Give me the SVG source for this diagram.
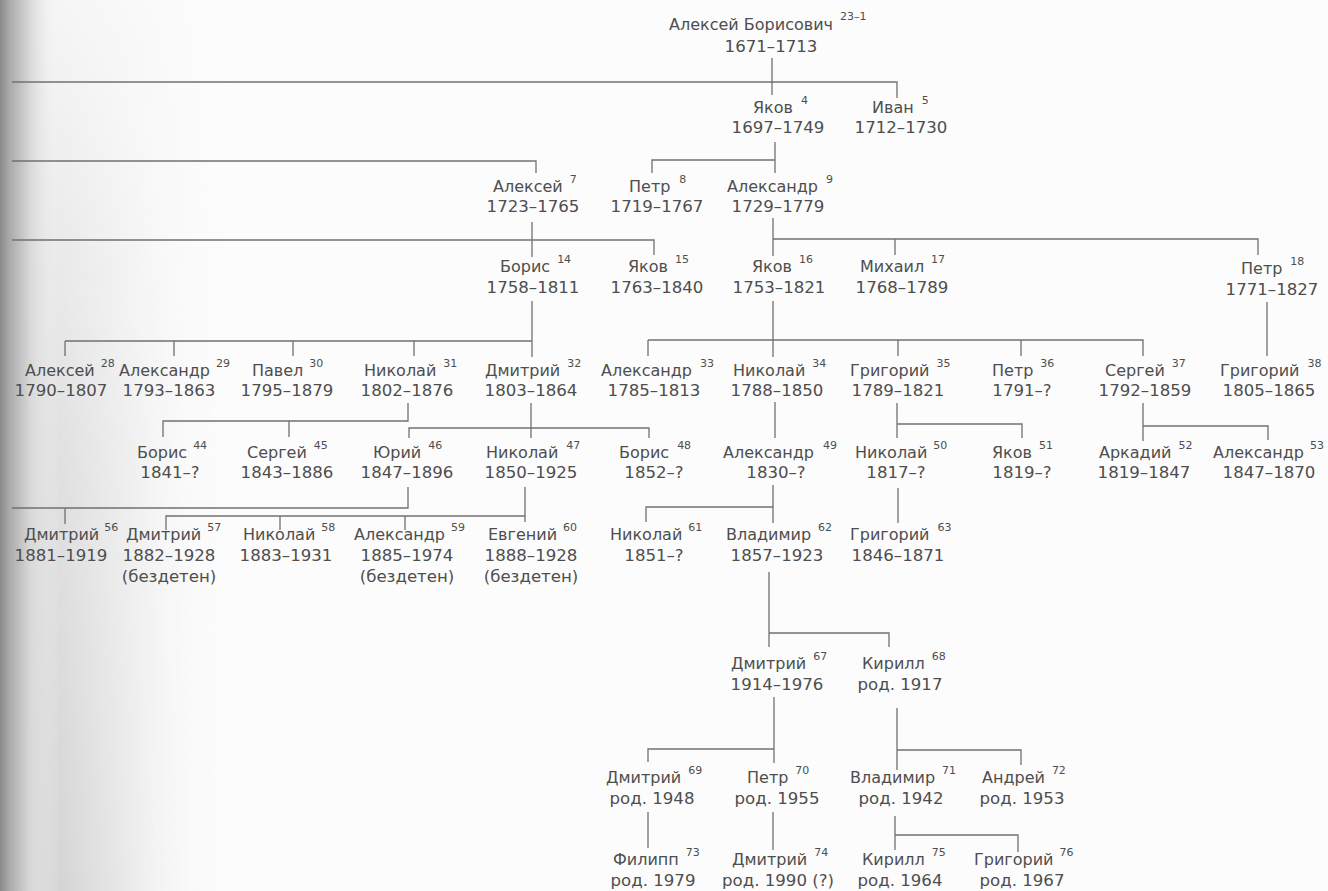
<svg xmlns="http://www.w3.org/2000/svg" width="1328" height="891" viewBox="0 0 1328 891">
<defs>
<linearGradient id="edge" x1="0" y1="0" x2="1" y2="0">
<stop offset="0" stop-color="#8a8a8a"/>
<stop offset="0.15" stop-color="#a9a9a9"/>
<stop offset="0.5" stop-color="#d8d8d8"/>
<stop offset="1" stop-color="#fcfcfc" stop-opacity="0"/>
</linearGradient>
<linearGradient id="wide" x1="0" y1="0" x2="1" y2="0">
<stop offset="0" stop-color="#b0b0b0"/>
<stop offset="0.25" stop-color="#d4d4d4"/>
<stop offset="0.6" stop-color="#ededed"/>
<stop offset="1" stop-color="#fcfcfc" stop-opacity="0"/>
</linearGradient>
<linearGradient id="fadeV" x1="0" y1="0" x2="0" y2="1">
<stop offset="0" stop-color="#fff" stop-opacity="0.15"/>
<stop offset="0.5" stop-color="#fff" stop-opacity="0.7"/>
<stop offset="1" stop-color="#fff" stop-opacity="1"/>
</linearGradient>
<mask id="m" maskUnits="userSpaceOnUse" x="0" y="0" width="240" height="891">
<rect width="240" height="891" fill="url(#fadeV)"/>
</mask>
</defs>
<style>
text{font-family:"DejaVu Sans","Liberation Sans",sans-serif;fill:#4e4e4e;font-size:16px}
.d{text-anchor:middle;font-size:16.6px}
.s{font-size:11px}
#connectors path{fill:none;stroke:#707070;stroke-width:1.3}
</style>
<rect width="1328" height="891" fill="#fcfcfc"/>
<rect width="230" height="891" fill="url(#wide)" mask="url(#m)"/>
<rect width="60" height="891" fill="url(#edge)"/>
<g id="connectors">
<path d="M772,58V95M12,82H897V98"/>
<path d="M775,142V173M652,173V160H775"/>
<path d="M12,161H536V173"/>
<path d="M532,222V257M12,240H654V255"/>
<path d="M773,218V256M773,239H1258V255M895,239V255"/>
<path d="M532,301V357M65,341H532M65,341V356M174,341V356M293,341V356M414,341V356"/>
<path d="M773,301V357M648,340H1143V356M648,340V356M898,340V356M1021,340V356"/>
<path d="M1267,302V356"/>
<path d="M408,403V421H163V437M289,421V437"/>
<path d="M531,403V438M409,438V428H649V438"/>
<path d="M775,402V438"/>
<path d="M897,403V438M897,424H1022V438"/>
<path d="M1143,403V441M1143,426H1268V440"/>
<path d="M408,487V508H12M65,508V524"/>
<path d="M525,487V522M525,516H166V530M280,516V530M405,516V530"/>
<path d="M773,485V523M773,507H646V522"/>
<path d="M898,488V523"/>
<path d="M769,572V647M769,633H889V647"/>
<path d="M774,697V763M774,749H648V762"/>
<path d="M897,708V770M897,750H1021V765"/>
<path d="M648,812V848"/>
<path d="M773,812V850"/>
<path d="M895,816V850M895,835H1018V852"/>
</g>
<g id="n1"><text x="669" y="30">Алексей Борисович<tspan class="s" dx="7" dy="-10">23–1</tspan></text><text class="d" x="771" y="52">1671–1713</text></g>
<g id="n4"><text x="753" y="113">Яков<tspan class="s" dx="8" dy="-9">4</tspan></text><text class="d" x="778" y="133">1697–1749</text></g>
<g id="n5"><text x="872" y="113">Иван<tspan class="s" dx="8" dy="-9">5</tspan></text><text class="d" x="901" y="133">1712–1730</text></g>
<g id="n7"><text x="493" y="192">Алексей<tspan class="s" dx="7" dy="-9">7</tspan></text><text class="d" x="533" y="212">1723–1765</text></g>
<g id="n8"><text x="629" y="192">Петр<tspan class="s" dx="9" dy="-9">8</tspan></text><text class="d" x="657" y="212">1719–1767</text></g>
<g id="n9"><text x="727" y="192">Александр<tspan class="s" dx="8" dy="-9">9</tspan></text><text class="d" x="778" y="212">1729–1779</text></g>
<g id="n14"><text x="500" y="272">Борис<tspan class="s" dx="7" dy="-9">14</tspan></text><text class="d" x="533" y="293">1758–1811</text></g>
<g id="n15"><text x="628" y="272">Яков<tspan class="s" dx="7" dy="-9">15</tspan></text><text class="d" x="657" y="293">1763–1840</text></g>
<g id="n16"><text x="752" y="272">Яков<tspan class="s" dx="7" dy="-9">16</tspan></text><text class="d" x="779" y="293">1753–1821</text></g>
<g id="n17"><text x="860" y="272">Михаил<tspan class="s" dx="7" dy="-9">17</tspan></text><text class="d" x="902" y="293">1768–1789</text></g>
<g id="n18"><text x="1241" y="274">Петр<tspan class="s" dx="8" dy="-9">18</tspan></text><text class="d" x="1272" y="295">1771–1827</text></g>
<g id="n28"><text x="25" y="376">Алексей<tspan class="s" dx="6" dy="-9">28</tspan></text><text class="d" x="61" y="396">1790–1807</text></g>
<g id="n29"><text x="119" y="376">Александр<tspan class="s" dx="6" dy="-9">29</tspan></text><text class="d" x="169" y="396">1793–1863</text></g>
<g id="n30"><text x="252" y="376">Павел<tspan class="s" dx="6" dy="-9">30</tspan></text><text class="d" x="287" y="396">1795–1879</text></g>
<g id="n31"><text x="364" y="376">Николай<tspan class="s" dx="7" dy="-9">31</tspan></text><text class="d" x="407" y="396">1802–1876</text></g>
<g id="n32"><text x="485" y="376">Дмитрий<tspan class="s" dx="7" dy="-9">32</tspan></text><text class="d" x="531" y="396">1803–1864</text></g>
<g id="n33"><text x="601" y="376">Александр<tspan class="s" dx="8" dy="-9">33</tspan></text><text class="d" x="654" y="396">1785–1813</text></g>
<g id="n34"><text x="733" y="376">Николай<tspan class="s" dx="7" dy="-9">34</tspan></text><text class="d" x="777" y="396">1788–1850</text></g>
<g id="n35"><text x="850" y="376">Григорий<tspan class="s" dx="7" dy="-9">35</tspan></text><text class="d" x="898" y="396">1789–1821</text></g>
<g id="n36"><text x="992" y="376">Петр<tspan class="s" dx="7" dy="-9">36</tspan></text><text class="d" x="1022" y="396">1791–?</text></g>
<g id="n37"><text x="1105" y="376">Сергей<tspan class="s" dx="7" dy="-9">37</tspan></text><text class="d" x="1145" y="396">1792–1859</text></g>
<g id="n38"><text x="1220" y="376">Григорий<tspan class="s" dx="8" dy="-9">38</tspan></text><text class="d" x="1269" y="396">1805–1865</text></g>
<g id="n44"><text x="137" y="458">Борис<tspan class="s" dx="6" dy="-9">44</tspan></text><text class="d" x="170" y="478">1841–?</text></g>
<g id="n45"><text x="247" y="458">Сергей<tspan class="s" dx="7" dy="-9">45</tspan></text><text class="d" x="287" y="478">1843–1886</text></g>
<g id="n46"><text x="373" y="458">Юрий<tspan class="s" dx="7" dy="-9">46</tspan></text><text class="d" x="407" y="478">1847–1896</text></g>
<g id="n47"><text x="486" y="458">Николай<tspan class="s" dx="8" dy="-9">47</tspan></text><text class="d" x="531" y="478">1850–1925</text></g>
<g id="n48"><text x="619" y="458">Борис<tspan class="s" dx="8" dy="-9">48</tspan></text><text class="d" x="654" y="478">1852–?</text></g>
<g id="n49"><text x="723" y="458">Александр<tspan class="s" dx="9" dy="-9">49</tspan></text><text class="d" x="776" y="478">1830–?</text></g>
<g id="n50"><text x="855" y="458">Николай<tspan class="s" dx="6" dy="-9">50</tspan></text><text class="d" x="896" y="478">1817–?</text></g>
<g id="n51"><text x="992" y="458">Яков<tspan class="s" dx="7" dy="-9">51</tspan></text><text class="d" x="1022" y="478">1819–?</text></g>
<g id="n52"><text x="1099" y="458">Аркадий<tspan class="s" dx="7" dy="-9">52</tspan></text><text class="d" x="1144" y="478">1819–1847</text></g>
<g id="n53"><text x="1213" y="458">Александр<tspan class="s" dx="6" dy="-9">53</tspan></text><text class="d" x="1269" y="478">1847–1870</text></g>
<g id="n56"><text x="24" y="540">Дмитрий<tspan class="s" dx="5" dy="-9">56</tspan></text><text class="d" x="61" y="561">1881–1919</text></g>
<g id="n57"><text x="126" y="540">Дмитрий<tspan class="s" dx="6" dy="-9">57</tspan></text><text class="d" x="169" y="561">1882–1928</text><text class="d" x="169" y="582">(бездетен)</text></g>
<g id="n58"><text x="243" y="540">Николай<tspan class="s" dx="6" dy="-9">58</tspan></text><text class="d" x="286" y="561">1883–1931</text></g>
<g id="n59"><text x="354" y="540">Александр<tspan class="s" dx="6" dy="-9">59</tspan></text><text class="d" x="407" y="561">1885–1974</text><text class="d" x="407" y="582">(бездетен)</text></g>
<g id="n60"><text x="488" y="540">Евгений<tspan class="s" dx="6" dy="-9">60</tspan></text><text class="d" x="531" y="561">1888–1928</text><text class="d" x="531" y="582">(бездетен)</text></g>
<g id="n61"><text x="610" y="540">Николай<tspan class="s" dx="6" dy="-9">61</tspan></text><text class="d" x="654" y="561">1851–?</text></g>
<g id="n62"><text x="726" y="540">Владимир<tspan class="s" dx="7" dy="-9">62</tspan></text><text class="d" x="777" y="561">1857–1923</text></g>
<g id="n63"><text x="850" y="540">Григорий<tspan class="s" dx="8" dy="-9">63</tspan></text><text class="d" x="898" y="561">1846–1871</text></g>
<g id="n67"><text x="731" y="669">Дмитрий<tspan class="s" dx="7" dy="-9">67</tspan></text><text class="d" x="777" y="690">1914–1976</text></g>
<g id="n68"><text x="862" y="669">Кирилл<tspan class="s" dx="7" dy="-9">68</tspan></text><text class="d" x="900" y="690">род. 1917</text></g>
<g id="n69"><text x="606" y="783">Дмитрий<tspan class="s" dx="7" dy="-9">69</tspan></text><text class="d" x="652" y="804">род. 1948</text></g>
<g id="n70"><text x="747" y="783">Петр<tspan class="s" dx="7" dy="-9">70</tspan></text><text class="d" x="777" y="804">род. 1955</text></g>
<g id="n71"><text x="850" y="783">Владимир<tspan class="s" dx="7" dy="-9">71</tspan></text><text class="d" x="901" y="804">род. 1942</text></g>
<g id="n72"><text x="982" y="783">Андрей<tspan class="s" dx="7" dy="-9">72</tspan></text><text class="d" x="1022" y="804">род. 1953</text></g>
<g id="n73"><text x="613" y="865">Филипп<tspan class="s" dx="7" dy="-9">73</tspan></text><text class="d" x="653" y="886">род. 1979</text></g>
<g id="n74"><text x="732" y="865">Дмитрий<tspan class="s" dx="7" dy="-9">74</tspan></text><text class="d" x="778" y="886">род. 1990 (?)</text></g>
<g id="n75"><text x="862" y="865">Кирилл<tspan class="s" dx="7" dy="-9">75</tspan></text><text class="d" x="900" y="886">род. 1964</text></g>
<g id="n76"><text x="974" y="865">Григорий<tspan class="s" dx="6" dy="-9">76</tspan></text><text class="d" x="1022" y="886">род. 1967</text></g>
</svg>
